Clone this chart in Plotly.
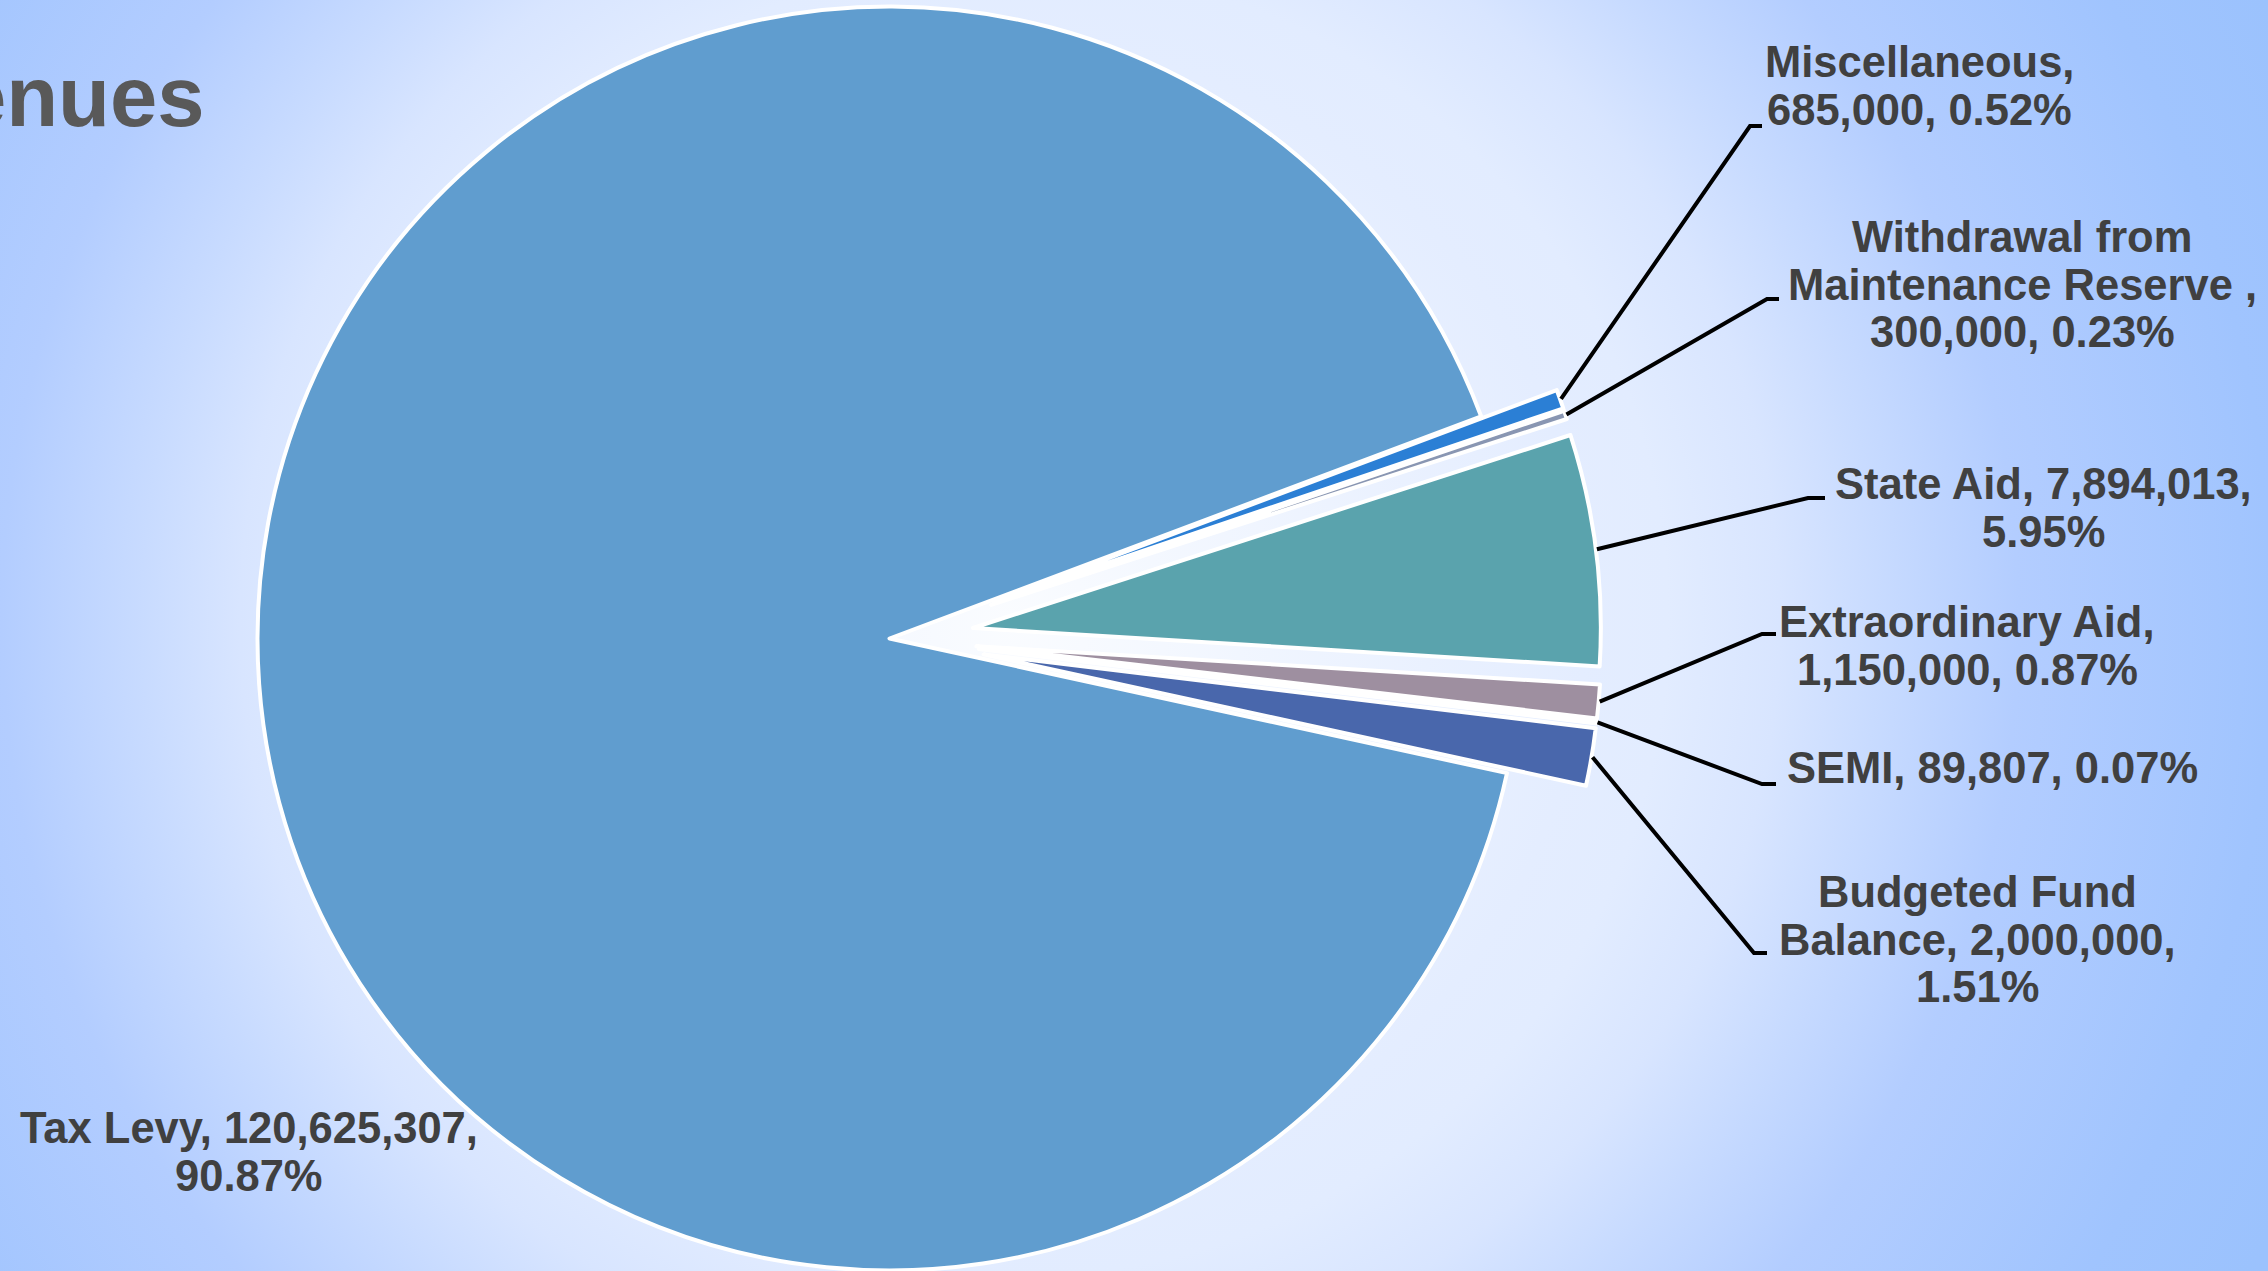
import base64
import math

import plotly.graph_objects as go

W, H = 2268, 1271

# ---- data -------------------------------------------------------------
categories = [
    "Tax Levy",
    "Miscellaneous",
    "Withdrawal from Maintenance Reserve ",
    "State Aid",
    "Extraordinary Aid",
    "SEMI",
    "Budgeted Fund Balance",
]
amounts = [120625307, 685000, 300000, 7894013, 1150000, 89807, 2000000]
exploded = [False, True, True, True, True, True, True]

# ---- style ------------------------------------------------------------
slice_colors = ["#609DCF", "#2B7FD5", "#8996B2", "#5AA3AD", "#9E8FA0", "#8FA9D6", "#4967AC"]
label_wrap = [[3, 1], [1, 2], [2, 3, 2], [3, 1], [2, 2], [4], [2, 2, 1]]
label_pos = [(249, 1128), (1919, 62), (2022, 237), (2043, 484), (1967, 622), (1992, 768), (1977, 892)]
leader_pts = [None, (1750, 126, 1762), (1767, 299, 1779), (1808, 498, 1825),
              (1762, 634, 1776), (1762, 784, 1776), (1754, 953, 1767)]

CX, CY, R = 889.5, 638.5, 632.0     # pie centre / radius in px
PULL = 80.0                          # explosion distance in px
ROT = 102.3                          # start angle of first slice, clockwise from 12 o'clock
BORDER = 4.0
LABEL_FONT = dict(family="Liberation Sans, Arial, sans-serif", size=43.5, color="#404040", weight=700)
LINE_STEP = 47.5


def px(x, y):
    return x / W, 1 - y / H


total = float(sum(amounts))
n = len(amounts)

# mid angle of every slice (clockwise from 12 o'clock, degrees)
mid_angles = []
acc = 0.0
for v in amounts:
    mid_angles.append(ROT + 360.0 * (acc + v / 2.0) / total)
    acc += v

transparent = "rgba(0,0,0,0)"


def pie_trace(keep, cx, cy, r, name):
    colors = [slice_colors[j] if j in keep else transparent for j in range(n)]
    widths = [BORDER if j in keep else 0 for j in range(n)]
    dx0 = max(0.0, (cx - r) / W)
    dx1 = min(1.0, (cx + r) / W)
    dy0 = max(0.0, (H - (cy + r)) / H)
    dy1 = min(1.0, (H - (cy - r)) / H)
    return go.Pie(
        labels=categories,
        values=amounts,
        name=name,
        sort=False,
        direction="clockwise",
        rotation=ROT,
        textinfo="none",
        hoverinfo="label+value+percent",
        marker=dict(colors=colors, line=dict(color="white", width=widths)),
        domain=dict(x=[dx0, dx1], y=[dy0, dy1]),
        showlegend=False,
    )


traces = []
base = [j for j in range(n) if not exploded[j]]
traces.append(pie_trace(base, CX, CY, R, "base"))

reach = R + PULL
for j in range(n):
    if not exploded[j]:
        continue
    a = math.radians(mid_angles[j])
    ux, uy = math.sin(a), -math.cos(a)
    d = PULL
    # keep the shifted disc inside the figure while preserving the outer reach
    if uy < 0:
        d = max(d, (reach - CY) / (1 + uy))
    else:
        d = max(d, (CY + reach - H) / (1 - uy))
    r = reach - d
    traces.append(pie_trace([j], CX + d * ux, CY + d * uy, r, categories[j]))

fig = go.Figure(traces)

# ---- background gradient ----------------------------------------------
svg = (
    f'<svg xmlns="http://www.w3.org/2000/svg" width="{W}" height="{H}" viewBox="0 0 {W} {H}">'
    '<defs><radialGradient id="bg" gradientUnits="userSpaceOnUse" cx="1010" cy="620" r="1400">'
    '<stop offset="0" stop-color="#FAFCFF"/>'
    '<stop offset="0.41" stop-color="#E4EDFF"/>'
    '<stop offset="0.47" stop-color="#E2ECFF"/>'
    '<stop offset="0.55" stop-color="#D8E5FF"/>'
    '<stop offset="0.62" stop-color="#C8DBFF"/>'
    '<stop offset="0.72" stop-color="#B3CDFF"/>'
    '<stop offset="0.9" stop-color="#A0C4FE"/>'
    '<stop offset="1" stop-color="#9BC2FD"/>'
    '</radialGradient></defs>'
    f'<rect width="{W}" height="{H}" fill="url(#bg)"/></svg>'
)
bg_uri = "data:image/svg+xml;base64," + base64.b64encode(svg.encode()).decode()

annotations = []
shapes = []

# title (runs off the left edge)
tx, ty = px(207, 96)
annotations.append(dict(
    text="Revenues", x=tx, y=ty, xref="paper", yref="paper",
    xanchor="right", yanchor="middle", showarrow=False,
    font=dict(family="Liberation Sans, Arial, sans-serif", size=85, color="#595959", weight=700),
))

# data labels
for j in range(n):
    pct = 100.0 * amounts[j] / total
    text = f"{categories[j]}, {amounts[j]:,}, {pct:.2f}%"
    words = text.split(" ")
    lines, i = [], 0
    for c in label_wrap[j]:
        lines.append(" ".join(words[i:i + c]))
        i += c
    lx, ly = label_pos[j]
    for k, line in enumerate(lines):
        ax, ay = px(lx, ly + k * LINE_STEP)
        annotations.append(dict(
            text=line, x=ax, y=ay, xref="paper", yref="paper",
            xanchor="center", yanchor="middle", showarrow=False, font=LABEL_FONT,
        ))

    if leader_pts[j] is not None:
        a = math.radians(mid_angles[j])
        sx = CX + (reach + 1) * math.sin(a)
        sy = CY - (reach + 1) * math.cos(a)
        ex, ey, tx_end = leader_pts[j]
        p0 = px(sx, sy)
        p1 = px(ex, ey)
        p2 = px(tx_end, ey)
        shapes.append(dict(
            type="path", xref="paper", yref="paper",
            path=f"M {p0[0]},{p0[1]} L {p1[0]},{p1[1]} L {p2[0]},{p2[1]}",
            line=dict(color="black", width=4),
        ))

fig.update_layout(
    width=W, height=H,
    margin=dict(l=0, r=0, t=0, b=0),
    paper_bgcolor="#C9DCFF",
    plot_bgcolor="rgba(0,0,0,0)",
    showlegend=False,
    images=[dict(source=bg_uri, xref="paper", yref="paper", x=0, y=1, sizex=1, sizey=1,
                 xanchor="left", yanchor="top", sizing="stretch", layer="below")],
    annotations=annotations,
    shapes=shapes,
)

fig.write_html("out.html")
